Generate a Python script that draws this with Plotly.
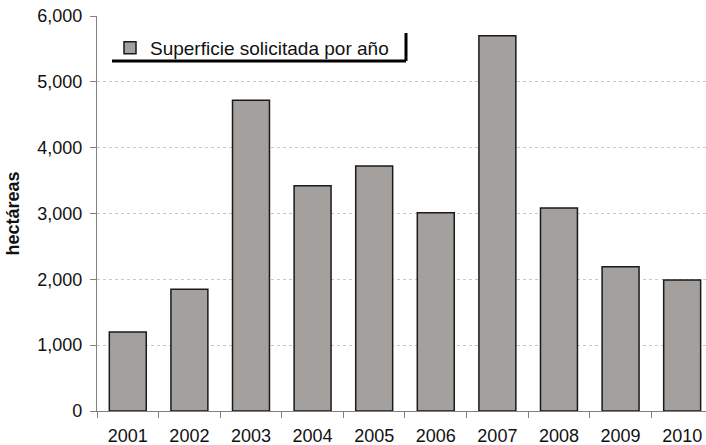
import plotly.graph_objects as go

# Superficie solicitada (hectáreas) por año
years = ["2001", "2002", "2003", "2004", "2005", "2006", "2007", "2008", "2009", "2010"]
hectareas = [1200, 1850, 4720, 3420, 3720, 3010, 5700, 3085, 2190, 1990]
y_ticks = [0, 1000, 2000, 3000, 4000, 5000, 6000]
y_tick_text = ["0", "1,000", "2,000", "3,000", "4,000", "5,000", "6,000"]
series_name = "Superficie solicitada por año"

W, H = 706, 445
ML, MR, MT, MB = 97, 0, 16, 34
PW, PH = W - ML - MR, H - MT - MB

def px_x(x):
    return (x - ML) / PW

def px_y(y):
    return (H - MB - y) / PH

fig = go.Figure()
fig.add_trace(go.Bar(
    x=years, y=hectareas, name=series_name, width=0.6,
    marker=dict(color="#A4A09D", line=dict(color="#1a1a1a", width=1.5)),
    showlegend=True,
))

# shadow edge of the legend box (bottom and right)
fig.add_shape(type="line", xref="paper", yref="paper",
              x0=px_x(112), x1=px_x(406), y0=px_y(61), y1=px_y(61),
              line=dict(color="#000000", width=3))
fig.add_shape(type="line", xref="paper", yref="paper",
              x0=px_x(406), x1=px_x(406), y0=px_y(33), y1=px_y(61),
              line=dict(color="#000000", width=3))

fig.update_layout(
    width=W, height=H,
    margin=dict(l=ML, r=MR, t=MT, b=MB),
    paper_bgcolor="white", plot_bgcolor="white",
    font=dict(family="Liberation Sans, Arial, sans-serif", color="#111111", size=16),
    bargap=0.4,
    legend=dict(x=px_x(110), y=px_y(29), xanchor="left", yanchor="top",
                bgcolor="rgba(0,0,0,0)", font=dict(size=19), itemwidth=30),
    xaxis=dict(
        type="category", range=[-0.5, 9.387],
        showline=True, linecolor="#808080", linewidth=1.2,
        ticks="outside", ticklen=6, tickcolor="#808080", tickson="boundaries",
        showgrid=False, tickfont=dict(size=18), ticklabelstandoff=8,
    ),
    yaxis=dict(
        range=[0, 6000], tickvals=y_ticks, ticktext=y_tick_text,
        showline=True, linecolor="#808080", linewidth=1.2,
        ticks="outside", ticklen=6, tickcolor="#808080",
        showgrid=True, gridcolor="#c8c8c8", griddash="dot", gridwidth=1,
        zeroline=False, tickfont=dict(size=18), ticklabelstandoff=4,
        title=dict(text="<b>hectáreas</b>", font=dict(size=18), standoff=12),
    ),
)

fig.write_html("out.html")
